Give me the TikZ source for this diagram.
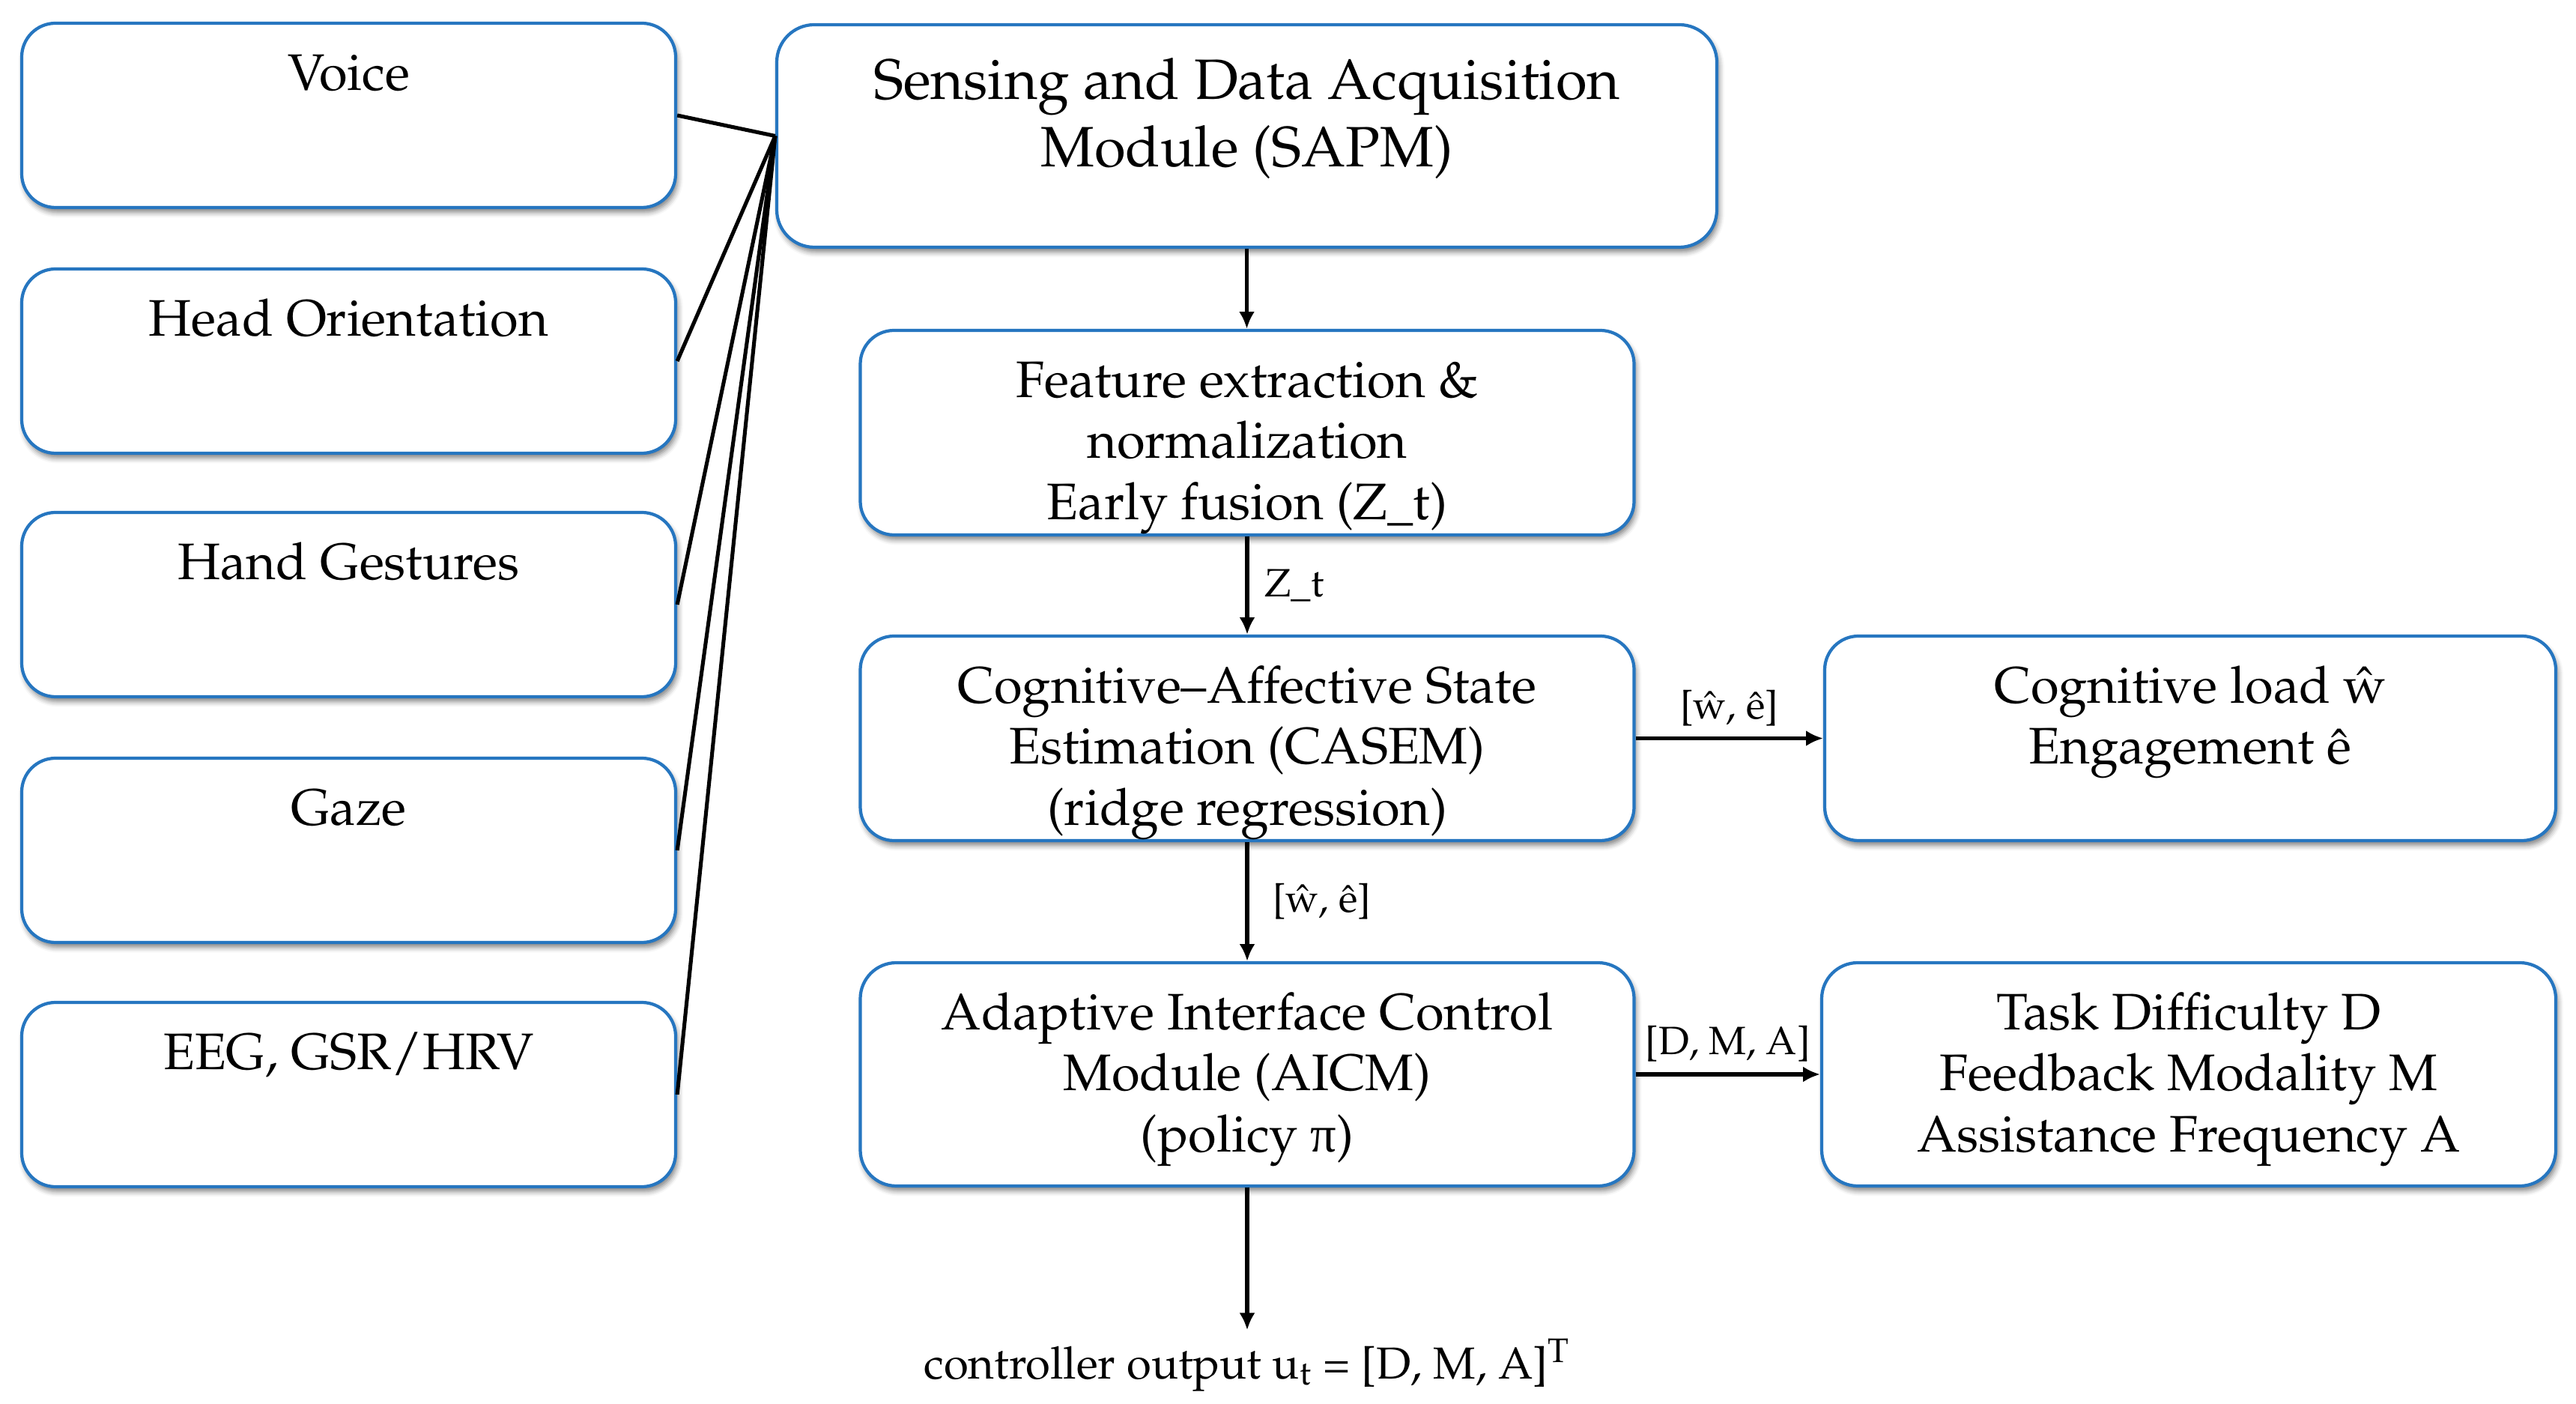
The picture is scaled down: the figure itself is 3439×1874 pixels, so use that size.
\documentclass[tikz,border=0pt]{standalone}
\usepackage{fontspec}
\newfontfamily\grk{Liberation Serif}
\usepackage[T1]{fontenc}
\usepackage{mathpazo}
\usetikzlibrary{arrows.meta,shadows.blur}
\definecolor{bxblue}{RGB}{38,118,192}
\newlength\pxu
\setlength\pxu{0.01cm}
\newcommand\mkbx[4]{\parbox[c][#2\pxu][t]{#1\pxu}{\centering\vspace*{#3\pxu}\strut #4}}
\tikzset{
  bx/.style={draw=bxblue, line width=1.2pt, rounded corners=0.45cm, fill=white, inner sep=0pt,
    blur shadow={shadow xshift=0.8pt, shadow yshift=-1.8pt, shadow blur radius=2pt, shadow opacity=50}},
  bigfont/.style={font=\fontsize{19.5}{23.3}\selectfont},
  conn/.style={line width=1.45pt, black},
  arr/.style={conn, -{Latex[length=6.5pt,width=6pt]}},
  lbl/.style={font=\fontsize{15}{18}\selectfont, inner sep=3pt}
}
\begin{document}
\begin{tikzpicture}[x=0.01cm, y=-0.01cm]
\useasboundingbox (0,0) rectangle (3439,1874);
% input modality boxes
\node[bx, bigfont] (voice) at (465.5,154) {\mkbx{873}{246}{31.7}{Voice}};
\node[bx, bigfont] (head)  at (465.5,482) {\mkbx{873}{246}{31.7}{Head Orientation}};
\node[bx, bigfont] (hand)  at (465.5,807) {\mkbx{873}{246}{31.7}{Hand Gestures}};
\node[bx, bigfont] (gaze)  at (465.5,1135) {\mkbx{873}{246}{31.7}{Gaze}};
\node[bx, bigfont] (eeg)   at (465.5,1461) {\mkbx{873}{246}{31.7}{EEG, GSR/HRV}};
% main column
\node[bx, font=\fontsize{21.6}{25.6}\selectfont, rounded corners=0.5cm] (sapm) at (1664.5,181.5)
  {\mkbx{1255}{297}{36}{Sensing and Data Acquisition\\Module (SAPM)}};
\node[bx, bigfont] (feat) at (1665,577.5)
  {\mkbx{1033}{273}{31.7}{Feature extraction \&\\normalization\\Early fusion (Z\_t)}};
\node[bx, bigfont] (casem) at (1665,985.5)
  {\mkbx{1033}{273}{31.7}{Cognitive--Affective State\\Estimation (CASEM)\\(ridge regression)}};
\node[bx, bigfont, rounded corners=0.48cm] (aicm) at (1665,1434)
  {\mkbx{1033}{298}{31.7}{Adaptive Interface Control\\Module (AICM)\\(policy {\grk π})}};
% right column
\node[bx, bigfont] (cog) at (2924,985.5)
  {\mkbx{976}{273}{31.7}{Cognitive load \^w\\Engagement \^e}};
\node[bx, bigfont, rounded corners=0.48cm] (task) at (2922,1434)
  {\mkbx{980}{298}{31.7}{Task Difficulty D\\Feedback Modality M\\Assistance Frequency A}};
% output
\node[anchor=base, font=\fontsize{17}{20}\selectfont, inner sep=0pt, text height=18.2pt] (out) at (1665,1840)
  {controller output u$_{\mathrm{t}}$ = [D, M, A]$^{\mathrm{T}}$};
% connectors
\foreach \n in {voice,head,hand,gaze,eeg} \draw[conn] (\n.east) -- (sapm.west);
\draw[arr] (sapm.south) -- (sapm.south |- feat.north);
\draw[arr] (feat.south) -- node[lbl, right=3pt] {Z\_t} (casem.north);
\draw[arr] (casem.south) -- node[lbl, right=6pt] {[\^w, \^e]} (aicm.north);
\draw[arr] (casem.east) -- node[lbl, above=1pt] {[\^w, \^e]} (cog.west);
\draw[arr] (aicm.east) -- node[lbl, above=1pt] {[D, M, A]} (task.west);
\draw[arr] (aicm.south) -- (aicm.south |- out.north);
\end{tikzpicture}
\end{document}
